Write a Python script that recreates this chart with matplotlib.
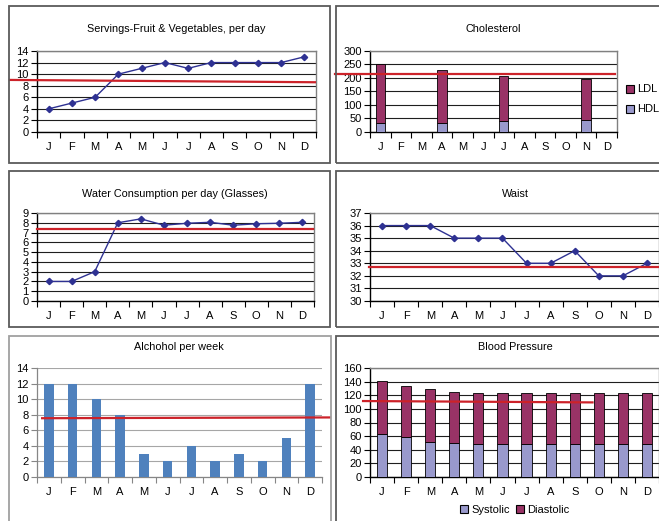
import numpy as np
import matplotlib
matplotlib.use("Agg")
import matplotlib.pyplot as plt
from matplotlib.patches import Rectangle, Patch

plt.rcParams['font.family'] = ['Liberation Sans', 'DejaVu Sans']

# ---- data ----
months = ['J', 'F', 'M', 'A', 'M', 'J', 'J', 'A', 'S', 'O', 'N', 'D']

fruit_veg = [4, 5, 6, 10, 11, 12, 11, 12, 12, 12, 12, 13]
fruit_target = [9.0, 8.6]

chol_hdl = [33, None, None, 34, None, None, 40, None, None, None, 45, None]
chol_ldl = [220, None, None, 194, None, None, 169, None, None, None, 152, None]
chol_target = [215, 215]

water = [2, 2, 3, 8, 8.4, 7.75, 7.95, 8.05, 7.75, 7.9, 7.95, 8.05]
water_target = [7.35, 7.35]

waist = [36, 36, 36, 35, 35, 35, 33, 33, 34, 32, 32, 33]
waist_target = [32.7, 32.7]

alcohol = [12, 12, 10, 8, 3, 2, 4, 2, 3, 2, 5, 12]
alcohol_target = [7.55, 7.65]

bp_systolic = [63, 58, 52, 50, 48, 48, 48, 48, 48, 48, 48, 48]
bp_diastolic = [78, 76, 77, 75, 75, 75, 75, 75, 75, 75, 75, 75]
bp_target = [111.5, 109.5]

# ---- colours ----
NAVY = '#2E3192'
RED = '#CC2229'
MAROON = '#993366'
LAVENDER = '#9999CC'
BLUE07 = '#4F81BD'

W, H = 659, 521
fig = plt.figure(figsize=(W / 100, H / 100), dpi=100)
fig.patch.set_facecolor('white')


def frac_box(x0, y0, x1, y1):
    return [x0 / W, 1 - y1 / H, (x1 - x0) / W, (y1 - y0) / H]


def panel(x0, y0, x1, y1, color='#5a5a5a'):
    l, b, w, h = frac_box(x0, y0, x1, y1)
    fig.patches.append(Rectangle((l, b), w, h, transform=fig.transFigure,
                                 fill=False, edgecolor=color, lw=1.3, zorder=0))


def title(x, y, s):
    fig.text(x / W, 1 - y / H, s, ha='center', va='center', fontsize=7.8)


def month_axis(ax, pad=7.5, color='black'):
    ax.set_xlim(-0.5, 11.5)
    ax.set_xticks(np.arange(-0.5, 12, 1))
    ax.set_xticklabels([])
    ax.set_xticks(np.arange(12), minor=True)
    ax.set_xticklabels(months, minor=True)
    ax.tick_params(axis='x', which='major', length=4, width=0.8,
                   direction='out', color=color)
    ax.tick_params(axis='x', which='minor', length=0, pad=pad, labelsize=8)
    ax.tick_params(axis='y', length=4, width=0.8, direction='out',
                   labelsize=8, pad=2, color=color)


def style03(ax, lo, hi, step):
    month_axis(ax)
    ax.set_ylim(lo, hi)
    ax.set_yticks(np.arange(lo, hi + step / 2, step))
    ax.yaxis.grid(True, color='#1e1e1e', lw=0.8)
    ax.set_axisbelow(True)
    for s in ('left', 'bottom'):
        ax.spines[s].set_color('black')
        ax.spines[s].set_linewidth(1.0)
    for s in ('top', 'right'):
        ax.spines[s].set_color('#808080')
        ax.spines[s].set_linewidth(1.0)


def target(ax, vals, x0, x1):
    ax.plot([x0, x1], vals, color=RED, lw=1.6,
            transform=ax.get_yaxis_transform(), clip_on=False, zorder=5)


x = np.arange(12)

# panels
panel(9, 6, 330, 163)
panel(336, 6, 664, 163)
panel(9, 171, 330, 327)
panel(336, 171, 664, 327)
panel(9, 336, 331, 526, color='#a0a0a0')
panel(336, 336, 664, 526)

# Servings - fruit & vegetables
ax1 = fig.add_axes(frac_box(37, 51, 316, 132))
style03(ax1, 0, 14, 2)
ax1.plot(x, fruit_veg, color=NAVY, lw=1.0, marker='D', ms=3.2, zorder=4)
target(ax1, fruit_target, -0.097, 0.996)
title(176, 29, 'Servings-Fruit & Vegetables, per day')

# Cholesterol
ax2 = fig.add_axes(frac_box(370, 51, 617, 132))
style03(ax2, 0, 300, 50)
hdl = np.array(chol_hdl, dtype=float)
ldl = np.array(chol_ldl, dtype=float)
ax2.bar(x, hdl, width=0.45, color=LAVENDER, edgecolor='black', lw=0.6, zorder=3)
ax2.bar(x, ldl, bottom=hdl, width=0.45, color=MAROON, edgecolor='black', lw=0.6, zorder=3)
target(ax2, chol_target, -0.142, 0.992)
title(493, 29, 'Cholesterol')
fig.legend(handles=[Patch(facecolor=MAROON, edgecolor='black', lw=0.8, label='LDL'),
                    Patch(facecolor=LAVENDER, edgecolor='black', lw=0.8, label='HDL')],
           loc='center left', bbox_to_anchor=(626 / W, 1 - 99.5 / H), frameon=False,
           fontsize=8, handlelength=0.7, handleheight=0.7, handletextpad=0.3,
           labelspacing=0.9, borderpad=0, borderaxespad=0)

# Water consumption
ax3 = fig.add_axes(frac_box(37, 213, 314, 301))
style03(ax3, 0, 9, 1)
ax3.plot(x, water, color=NAVY, lw=1.0, marker='D', ms=3.2, zorder=4)
target(ax3, water_target, 0.0, 0.995)
title(175, 194, 'Water Consumption per day (Glasses)')

# Waist
ax4 = fig.add_axes(frac_box(370, 213, 659, 301))
style03(ax4, 30, 37, 1)
ax4.plot(x, waist, color=NAVY, lw=1.0, marker='D', ms=3.2, zorder=4)
target(ax4, waist_target, -0.005, 1.0)
title(515, 194, 'Waist')

# Alcohol per week (newer style)
ax5 = fig.add_axes(frac_box(37, 368, 322, 477))
month_axis(ax5, color='#868686')
ax5.set_ylim(0, 14)
ax5.set_yticks(np.arange(0, 15, 2))
ax5.yaxis.grid(True, color='#a6a6a6', lw=0.8)
ax5.set_axisbelow(True)
for s in ('top', 'right'):
    ax5.spines[s].set_visible(False)
for s in ('left', 'bottom'):
    ax5.spines[s].set_color('#868686')
    ax5.spines[s].set_linewidth(0.9)
ax5.bar(x, alcohol, width=0.4, color=BLUE07, zorder=3)
target(ax5, alcohol_target, 0.018, 1.028)
title(179, 347, 'Alchohol per week')

# Blood pressure
ax6 = fig.add_axes(frac_box(370, 368, 659, 477))
style03(ax6, 0, 160, 20)
sys_ = np.array(bp_systolic, dtype=float)
dia_ = np.array(bp_diastolic, dtype=float)
ax6.bar(x, sys_, width=0.42, color=LAVENDER, edgecolor='black', lw=0.6, zorder=3)
ax6.bar(x, dia_, bottom=sys_, width=0.42, color=MAROON, edgecolor='black', lw=0.6, zorder=3)
target(ax6, bp_target, -0.024, 0.77)
title(515, 347, 'Blood Pressure')
fig.legend(handles=[Patch(facecolor=LAVENDER, edgecolor='black', lw=0.8, label='Systolic'),
                    Patch(facecolor=MAROON, edgecolor='black', lw=0.8, label='Diastolic')],
           loc='center', bbox_to_anchor=(515 / W, 1 - 510 / H), frameon=False, ncol=2,
           fontsize=8, handlelength=0.7, handleheight=0.7, handletextpad=0.3,
           columnspacing=0.6, borderpad=0, borderaxespad=0)

fig.savefig('out.png', dpi=100)
